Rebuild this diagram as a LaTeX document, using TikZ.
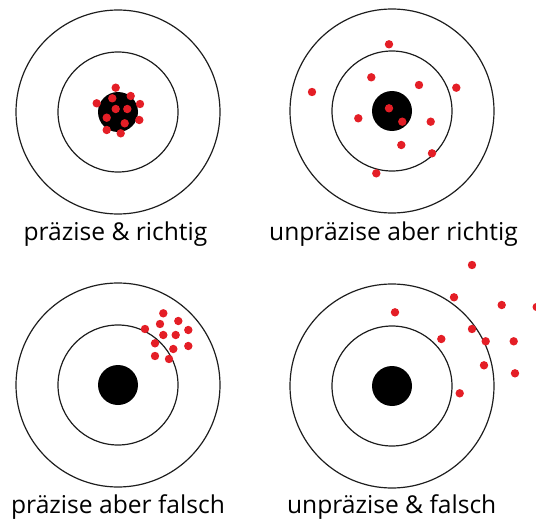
\documentclass[tikz,border=0pt]{standalone}
\usepackage{fontspec}
\setmainfont{Open Sans}
\definecolor{cHit}{HTML}{E41E26}
\definecolor{cRing}{HTML}{1E1E1E}
\tikzset{
  ring/.style={draw=cRing, line width=1.2pt},
  bull/.style={fill=black},
  hit/.style={fill=cHit},
  caption/.style={font=\fontsize{24.6}{28}\selectfont, text=black, anchor=base, inner sep=0pt},
}

\begin{document}
\begin{tikzpicture}[x=1pt,y=-1pt]
\useasboundingbox (0,0) rectangle (536,519);
% ---------------- rings and bull's eyes
\foreach \cx/\cy in {118/112,392/111,118/385,392/386}{
  \draw[ring] (\cx,\cy) circle[radius=102pt];
  \draw[ring] (\cx,\cy) circle[radius=60pt];
  \fill[bull] (\cx,\cy) circle[radius=20pt];
}

% ---------------- A: präzise & richtig
\foreach \x/\y in {115.7/87.7,96.7/103.3,112.3/98.3,130.7/96,140/104,115.7/109,127.3/109,106.7/117.7,139.3/120,124.7/123.3,106.7/130,120.7/133.3}
  \fill[hit] (\x,\y) circle[radius=4.2pt];
\node[caption] (capA) at (115.5,240) {präzise \& richtig};

% ---------------- B: unpräzise aber richtig
\foreach \x/\y in {389/44.3,371.3/77.3,312/92,419/85,456.3/87.7,389/108.3,358.3/118.3,402.3/121.7,430.7/121.7,401.3/145,432/153.3,376.3/173.3}
  \fill[hit] (\x,\y) circle[radius=4.2pt];
\node[caption] (capB) at (393.5,240) {unpräzise aber richtig};

% ---------------- C: präzise aber falsch
\foreach \x/\y in {163.3/313.3,160/324,178.3/321,145/329,163.3/335,175.7/335,188.3/330,155/343.3,173.3/349,188.3/346,155/356,169/359}
  \fill[hit] (\x,\y) circle[radius=4.2pt];
\node[caption] (capC) at (118,513) {präzise aber falsch};

% ---------------- D: unpräzise & falsch
\foreach \x/\y in {472/265,454/297.3,501.7/305,536.7/307,395/312.3,472/329,441.3/339,485.7/341.3,513.7/341.3,484/365.3,515/373.3,459.7/393.3}
  \fill[hit] (\x,\y) circle[radius=4.2pt];
\node[caption] (capD) at (391.7,513) {unpräzise \& falsch};
\end{tikzpicture}
\end{document}
